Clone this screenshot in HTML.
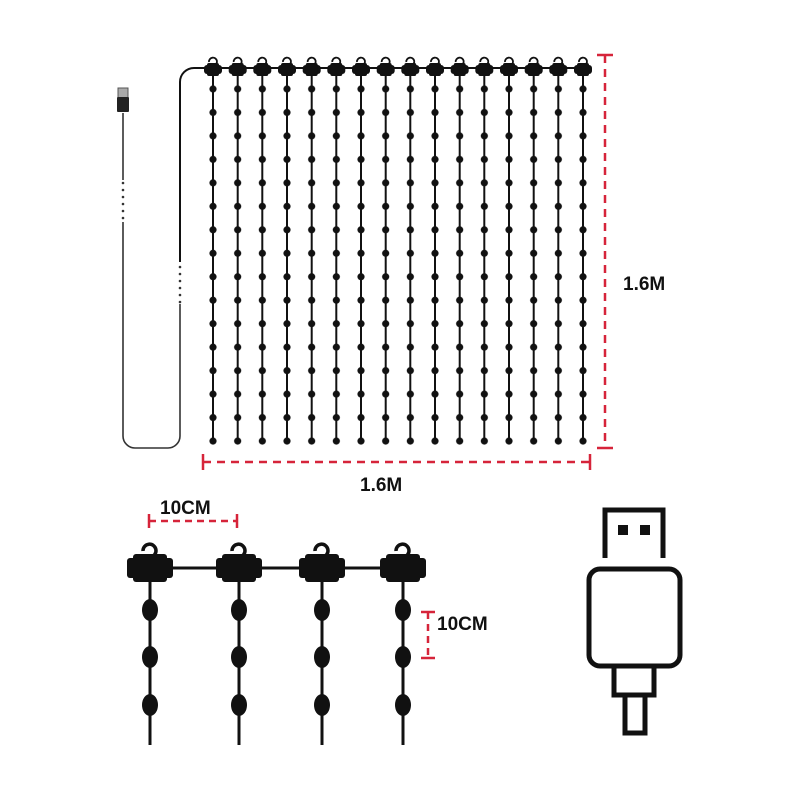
<!DOCTYPE html>
<html><head><meta charset="utf-8"><style>html,body{margin:0;padding:0;background:#fff}svg{display:block}</style></head>
<body>
<svg width="800" height="800" viewBox="0 0 800 800" xmlns="http://www.w3.org/2000/svg" font-family="Liberation Sans, sans-serif">
<defs>
<g id="sh">
  <path d="M-4,-6 a4,4 0 1 1 5,3.5 l-1,1.5 v2" fill="none" stroke="#111" stroke-width="1.8"/>
  <rect x="-9" y="-3" width="18" height="9" rx="3" fill="#111"/>
  <rect x="-6" y="-5" width="12" height="13" rx="2" fill="#111"/>
</g>
<g id="bh">
  <path d="M-7,-17 a6.5,6.5 0 1 1 8,6 l-1,2 v5" fill="none" stroke="#111" stroke-width="3.5"/>
  <rect x="-23" y="-10" width="46" height="20" rx="3" fill="#111"/>
  <rect x="-17" y="-14" width="34" height="28" rx="3" fill="#111"/>
</g>
<pattern id="dp" x="200.67" y="77.27" width="24.667" height="23.47" patternUnits="userSpaceOnUse">
  <circle cx="12.333" cy="11.735" r="3.6" fill="#111"/>
</pattern>
</defs>
<!-- cable -->
<g fill="none" stroke="#333" stroke-width="1.6">
  <line x1="123" y1="113" x2="123" y2="180"/>
  <path d="M123,222 V436 a12,12 0 0 0 12,12 H168 a12,12 0 0 0 12,-12 V304"/>
  <path d="M180,262 V82 a14,14 0 0 1 14,-14 H583" stroke="#111" stroke-width="2"/>
</g>
<g fill="#333">
  <circle cx="123" cy="183" r="1.3"/><circle cx="123" cy="190" r="1.3"/><circle cx="123" cy="197" r="1.3"/><circle cx="123" cy="204" r="1.3"/><circle cx="123" cy="211" r="1.3"/><circle cx="123" cy="218" r="1.3"/>
  <circle cx="180" cy="267" r="1.3"/><circle cx="180" cy="274" r="1.3"/><circle cx="180" cy="281" r="1.3"/><circle cx="180" cy="288" r="1.3"/><circle cx="180" cy="295" r="1.3"/><circle cx="180" cy="302" r="1.3"/>
</g>
<!-- usb small -->
<rect x="118" y="88" width="10" height="10" fill="#aaa" stroke="#555" stroke-width="1"/>
<rect x="117" y="97" width="12" height="15" rx="1" fill="#222"/>
<g stroke="#111" stroke-width="2">
<line x1="213" y1="68" x2="213" y2="441"/><line x1="237.7" y1="68" x2="237.7" y2="441"/><line x1="262.3" y1="68" x2="262.3" y2="441"/><line x1="287" y1="68" x2="287" y2="441"/><line x1="311.7" y1="68" x2="311.7" y2="441"/><line x1="336.3" y1="68" x2="336.3" y2="441"/><line x1="361" y1="68" x2="361" y2="441"/><line x1="385.7" y1="68" x2="385.7" y2="441"/><line x1="410.3" y1="68" x2="410.3" y2="441"/><line x1="435" y1="68" x2="435" y2="441"/><line x1="459.7" y1="68" x2="459.7" y2="441"/><line x1="484.3" y1="68" x2="484.3" y2="441"/><line x1="509" y1="68" x2="509" y2="441"/><line x1="533.7" y1="68" x2="533.7" y2="441"/><line x1="558.3" y1="68" x2="558.3" y2="441"/><line x1="583" y1="68" x2="583" y2="441"/>
</g>
<rect x="200.67" y="77.27" width="394.67" height="375.52" fill="url(#dp)"/>
<!-- red dims -->
<g stroke="#d6243a" stroke-width="2.5" fill="none">
  <line x1="605" y1="55" x2="605" y2="448" stroke-dasharray="8,6"/>
  <line x1="597" y1="55" x2="613" y2="55"/><line x1="597" y1="448" x2="613" y2="448"/>
  <line x1="203" y1="462" x2="590" y2="462" stroke-dasharray="8,6"/>
  <line x1="203" y1="454" x2="203" y2="470"/><line x1="590" y1="454" x2="590" y2="470"/>
  <line x1="149" y1="521" x2="237" y2="521" stroke-dasharray="7,5"/>
  <line x1="149" y1="514" x2="149" y2="528"/><line x1="237" y1="514" x2="237" y2="528"/>
  <line x1="428" y1="612" x2="428" y2="658" stroke-dasharray="7,5"/>
  <line x1="421" y1="612" x2="435" y2="612"/><line x1="421" y1="658" x2="435" y2="658"/>
</g>
<g font-size="19" fill="#111" font-weight="bold">
  <text x="623" y="290">1.6M</text>
  <text x="360" y="491">1.6M</text>
  <text x="160" y="514">10CM</text>
  <text x="437" y="630">10CM</text>
</g>
<!-- detail -->
<g stroke="#111" stroke-width="3" fill="none">
  <line x1="150" y1="568" x2="403" y2="568"/>
  <line x1="150" y1="568" x2="150" y2="745"/><line x1="239" y1="568" x2="239" y2="745"/><line x1="322" y1="568" x2="322" y2="745"/><line x1="403" y1="568" x2="403" y2="745"/>
</g>
<g fill="#111">
  <use href="#bh" x="150" y="568"/><use href="#bh" x="239" y="568"/><use href="#bh" x="322" y="568"/><use href="#bh" x="403" y="568"/>
  <ellipse cx="150" cy="610" rx="8" ry="11"/><ellipse cx="150" cy="657" rx="8" ry="11"/><ellipse cx="150" cy="705" rx="8" ry="11"/>
  <ellipse cx="239" cy="610" rx="8" ry="11"/><ellipse cx="239" cy="657" rx="8" ry="11"/><ellipse cx="239" cy="705" rx="8" ry="11"/>
  <ellipse cx="322" cy="610" rx="8" ry="11"/><ellipse cx="322" cy="657" rx="8" ry="11"/><ellipse cx="322" cy="705" rx="8" ry="11"/>
  <ellipse cx="403" cy="610" rx="8" ry="11"/><ellipse cx="403" cy="657" rx="8" ry="11"/><ellipse cx="403" cy="705" rx="8" ry="11"/>
</g>
<!-- usb icon -->
<g fill="none" stroke="#111" stroke-width="5">
  <path d="M605,558 V510 H663 V558"/>
  <rect x="589" y="569" width="91" height="97" rx="11"/>
  <rect x="614" y="666" width="40" height="29"/>
  <rect x="625" y="695" width="20" height="38"/>
</g>
<rect x="618" y="525" width="10" height="10" fill="#111"/><rect x="640" y="525" width="10" height="10" fill="#111"/>
<g fill="#111">
<use href="#sh" x="213" y="68"/><use href="#sh" x="237.7" y="68"/><use href="#sh" x="262.3" y="68"/><use href="#sh" x="287" y="68"/><use href="#sh" x="311.7" y="68"/><use href="#sh" x="336.3" y="68"/><use href="#sh" x="361" y="68"/><use href="#sh" x="385.7" y="68"/><use href="#sh" x="410.3" y="68"/><use href="#sh" x="435" y="68"/><use href="#sh" x="459.7" y="68"/><use href="#sh" x="484.3" y="68"/><use href="#sh" x="509" y="68"/><use href="#sh" x="533.7" y="68"/><use href="#sh" x="558.3" y="68"/><use href="#sh" x="583" y="68"/>
</g>
</svg>
</body></html>
